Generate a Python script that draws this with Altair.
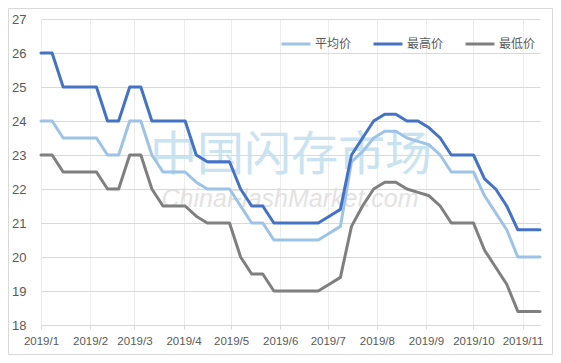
import altair as alt
import pandas as pd

dates = [
    "2019-01-01", "2019-01-08", "2019-01-15", "2019-01-22", "2019-01-29",
    "2019-02-05", "2019-02-12", "2019-02-19", "2019-02-26",
    "2019-03-05", "2019-03-12", "2019-03-19", "2019-03-26",
    "2019-04-02", "2019-04-09", "2019-04-16", "2019-04-23", "2019-04-30",
    "2019-05-07", "2019-05-14", "2019-05-21", "2019-05-28",
    "2019-06-04", "2019-06-11", "2019-06-18", "2019-06-25",
    "2019-07-02", "2019-07-09", "2019-07-16", "2019-07-23", "2019-07-30",
    "2019-08-06", "2019-08-13", "2019-08-20", "2019-08-27",
    "2019-09-03", "2019-09-10", "2019-09-17", "2019-09-24",
    "2019-10-01", "2019-10-08", "2019-10-15", "2019-10-22", "2019-10-29",
    "2019-11-05", "2019-11-12",
]

avg_price = [24, 24, 23.5, 23.5, 23.5, 23.5, 23, 23, 24, 24,
             23, 22.5, 22.5, 22.5, 22.2, 22, 22, 22, 21.5, 21,
             21, 20.5, 20.5, 20.5, 20.5, 20.5, 20.7, 20.9, 22.8, 23.1,
             23.5, 23.7, 23.7, 23.5, 23.4, 23.3, 23.0, 22.5, 22.5, 22.5,
             21.8, 21.3, 20.8, 20, 20, 20]
max_price = [26, 26, 25, 25, 25, 25, 24, 24, 25, 25,
             24, 24, 24, 24, 23, 22.8, 22.8, 22.8, 22, 21.5,
             21.5, 21, 21, 21, 21, 21, 21.2, 21.4, 23, 23.5,
             24, 24.2, 24.2, 24, 24, 23.8, 23.5, 23, 23, 23,
             22.3, 22, 21.5, 20.8, 20.8, 20.8]
min_price = [23, 23, 22.5, 22.5, 22.5, 22.5, 22, 22, 23, 23,
             22, 21.5, 21.5, 21.5, 21.2, 21, 21, 21, 20, 19.5,
             19.5, 19, 19, 19, 19, 19, 19.2, 19.4, 20.9, 21.5,
             22, 22.2, 22.2, 22, 21.9, 21.8, 21.5, 21, 21, 21,
             20.2, 19.7, 19.2, 18.4, 18.4, 18.4]

series_names = ["平均价", "最高价", "最低价"]
series_colors = ["#9DC3E6", "#4472C4", "#7F7F7F"]
y_ticks = list(range(18, 28))
month_ticks = list(range(1, 12))

rows = []
for name, vals in zip(series_names, [avg_price, max_price, min_price]):
    for d, v in zip(dates, vals):
        rows.append({"date": d, "price": v, "series": name})
df = pd.DataFrame(rows)

W, H = 499, 306
PAD = {"left": 33, "top": 11, "right": 13, "bottom": 30}

x_scale = alt.Scale(
    type="utc",
    domain=[alt.DateTime(year=2019, month=1, date=1, utc=True),
            alt.DateTime(year=2019, month=11, date=12, utc=True)],
    nice=False,
)
x_axis = alt.Axis(
    title=None,
    values=[alt.DateTime(year=2019, month=m, date=1, utc=True) for m in month_ticks],
    labelExpr="utcFormat(datum.value, '%Y/') + (utcmonth(datum.value) + 1)",
    grid=True, gridColor="#ececec", gridWidth=1,
    domainColor="#d9d9d9", domainWidth=1,
    ticks=True, tickColor="#d9d9d9", tickSize=4,
    labelFont="Liberation Sans", labelFontSize=11.5, labelColor="#595959",
    labelPadding=6, labelAngle=0, labelOverlap=False, labelFlush=False,
    labelBound=False,
)
y_axis = alt.Axis(
    title=None, values=y_ticks,
    grid=True, gridColor="#d9d9d9", gridWidth=1,
    domain=False, ticks=False,
    labelFont="Liberation Sans", labelFontSize=13, labelColor="#595959",
    labelPadding=15,
)

lines = alt.Chart(df).mark_line(strokeWidth=3, strokeJoin="round", strokeCap="round").encode(
    x=alt.X("date:T", scale=x_scale, axis=x_axis),
    y=alt.Y("price:Q", scale=alt.Scale(domain=[18, 27], nice=False, zero=False), axis=y_axis),
    color=alt.Color(
        "series:N",
        scale=alt.Scale(domain=series_names, range=series_colors),
        sort=series_names,
        legend=alt.Legend(
            title=None, orient="none", legendX=239, legendY=9, direction="horizontal",
            symbolType="stroke", symbolSize=841, symbolStrokeWidth=3,
            labelFont="Noto Sans CJK SC", labelFontSize=12, labelColor="#595959",
            labelOffset=3, columnPadding=15,
        ),
    ),
    detail="series:N",
)

one = alt.Data(values=[{}])

wm_cn = alt.Chart(one).mark_text(
    text="中国闪存市场", font="Noto Sans CJK SC", fontSize=47, fontWeight="normal",
    color="#c4e0f0", opacity=0.9, baseline="middle", align="center",
).encode(x=alt.value(250), y=alt.value(137))

wm_en = alt.Chart(one).mark_text(
    text="ChinaFlashMarket.com", font="Liberation Sans", fontSize=25, fontStyle="italic",
    color="#d9d9d9", opacity=0.75, baseline="alphabetic", align="center",
).encode(x=alt.value(249), y=alt.value(188))

border = alt.Chart(one).mark_rect(fill=None, stroke="#d9d9d9", strokeWidth=1).encode(
    x=alt.value(-PAD["left"] + 0.5), x2=alt.value(W + PAD["right"] - 0.5),
    y=alt.value(-PAD["top"] + 0.5), y2=alt.value(H + PAD["bottom"] - 0.5),
)

chart = alt.layer(border, wm_cn, wm_en, lines).properties(
    width=W, height=H,
    autosize=alt.AutoSizeParams(type="none"),
    padding=PAD,
    background="white",
).configure_view(stroke=None)

chart.save("out.html", embed_options={"renderer": "svg", "actions": False})
